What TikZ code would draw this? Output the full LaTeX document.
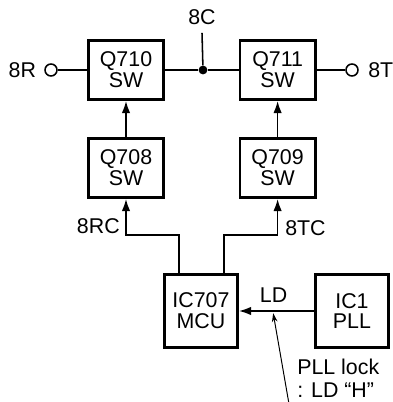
\documentclass[tikz,border=0pt]{standalone}
\usepackage{fontspec}
\setmainfont{Liberation Sans}
\usetikzlibrary{arrows.meta}

\begin{document}
\begin{tikzpicture}[
    block/.style={draw, line width=2pt, minimum width=1.88cm, minimum height=1.48cm,
        align=center, inner sep=0pt, font=\fontsize{15.2}{14.8}\selectfont},
    wire/.style={line width=1.1pt},
    sig/.style={line width=1.1pt, -{Latex[length=3mm,width=2.1mm]}},
    note/.style={line width=0.7pt, -{Stealth[length=2.2mm,width=1.4mm]}},
    lbl/.style={inner sep=0pt, font=\fontsize{15.2}{14.8}\selectfont},
    port/.style={circle, draw, line width=1.1pt, minimum size=0.3cm, inner sep=0pt}
]
    \useasboundingbox (0,0) rectangle (9.8,10.05);

    % Switches
    \node[block] (q710) at (3.15, 8.3) {Q710\\SW};
    \node[block] (q711) at (6.94, 8.3) {Q711\\SW};
    \node[block] (q708) at (3.15, 5.85) {Q708\\SW};
    \node[block] (q709) at (6.94, 5.85) {Q709\\SW};

    % MCU and PLL
    \node[block, minimum width=1.83cm, minimum height=1.83cm] (mcu) at (5.025, 2.275) {IC707\\MCU};
    \node[block, minimum width=1.83cm, minimum height=1.83cm] (pll) at (8.8, 2.275) {IC1\\PLL};

    % Supply line
    \node[port] (p8r) at (1.275, 8.3) {};
    \node[port] (p8t) at (8.8, 8.3) {};
    \node[lbl] (l8r) at (0.56, 8.3) {8R};
    \node[lbl, anchor=west] (l8t) at (9.2, 8.3) {8T};
    \node[circle, fill, inner sep=0pt, minimum size=0.22cm] (dot) at (5.075, 8.3) {};
    \node[lbl] (l8c) at (5.05, 9.625) {8C};

    \draw[wire] (p8r) -- (q710);
    \draw[wire] (q710) -- (dot) -- (q711);
    \draw[wire] (q711) -- (p8t);
    \draw[wire] ([yshift=-0.2cm]l8c.south) -- (dot);

    % Control lines
    \draw[sig] (q708) -- (q710);
    \draw[sig] (q709) -- (q711);
    \draw[sig] ([xshift=-0.55cm]mcu.north) -- ++(0,0.95) -| (q708.south);
    \draw[sig] ([xshift=0.575cm]mcu.north) -- ++(0,0.95) -| (q709.south);
    \node[lbl, anchor=base east] (rc) at (3.0, 4.2) {8RC};
    \node[lbl, anchor=base west] (tc) at (7.125, 4.15) {8TC};

    % Lock detect
    \draw[sig] (pll) -- (mcu);
    \node[lbl, anchor=base] (ld) at (6.84, 2.475) {LD};

    % Note
    \coordinate (ldpt) at (6.83, 2.22);
    \coordinate (tail) at (7.225, -0.05);
    \draw[note] (tail) -- (ldpt);
    \node[lbl, anchor=base west] (lock1) at (7.425, 0.675) {PLL lock};
    \node[lbl, anchor=base west] (lock2) at (7.425, 0.1) {: LD “H”};
\end{tikzpicture}
\end{document}
